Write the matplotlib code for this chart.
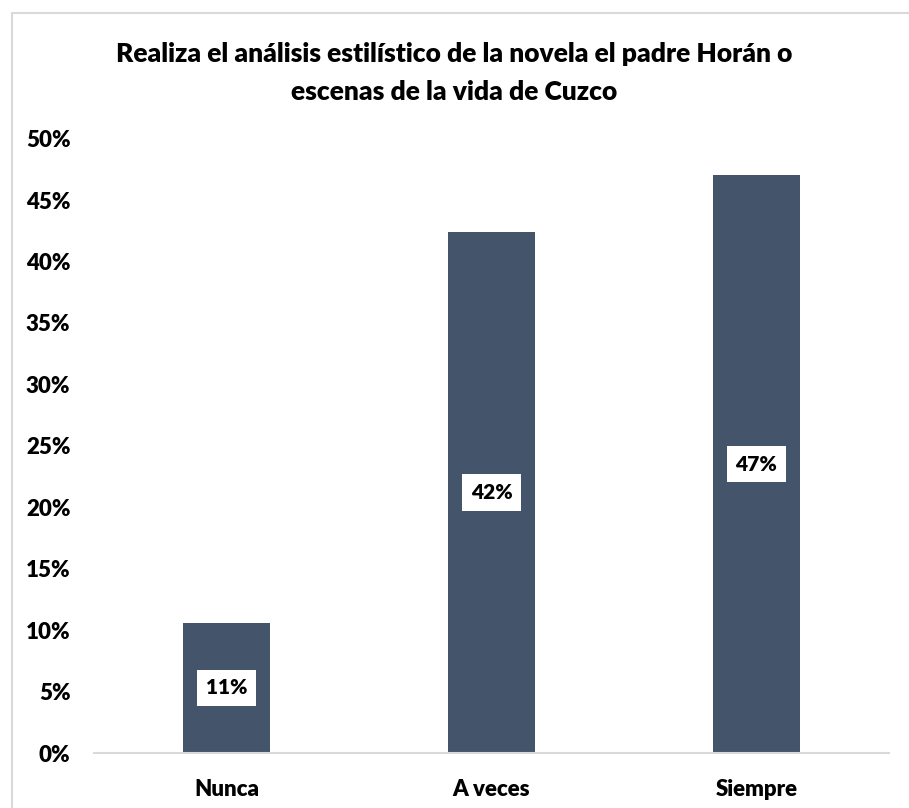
import matplotlib
matplotlib.use("Agg")
import matplotlib.pyplot as plt
from matplotlib.patches import Rectangle
from matplotlib.ticker import PercentFormatter

# data
categories = ["Nunca", "A veces", "Siempre"]
values = [10.6, 42.4, 47.0]
labels = ["11%", "42%", "47%"]
y_ticks = [0, 5, 10, 15, 20, 25, 30, 35, 40, 45, 50]

title = "Realiza el análisis estilístico de la novela el padre Horán o\nescenas de la vida de Cuzco"

plt.rcParams["font.family"] = ["Lato", "DejaVu Sans"]
bar_color = "#44546A"
line_color = "#D9D9D9"
weight = "heavy"

W, H = 909, 808
fig = plt.figure(figsize=(W / 100, H / 100), dpi=100)

# light chart frame (Excel style), cropped on the right/bottom
fig.patches.append(Rectangle((12 / W, -0.1), 1.2, (H - 13) / H + 0.1,
                             transform=fig.transFigure, fill=False,
                             edgecolor=line_color, linewidth=1.5))

ax = fig.add_axes([94 / W, (H - 753) / H, (889 - 94) / W, (753 - 138.6) / H])

x = range(len(categories))
bars = ax.bar(x, values, width=0.325, color=bar_color)

for b, lab in zip(bars, labels):
    ax.text(b.get_x() + b.get_width() / 2, b.get_height() / 2, lab,
            ha="center", va="center", fontsize=15, fontweight=weight,
            color="black",
            bbox=dict(boxstyle="square,pad=0.42", facecolor="white",
                      edgecolor="none"))

ax.set_xlim(-0.5, 2.5)
ax.set_ylim(0, 50)
ax.set_yticks(y_ticks)
ax.yaxis.set_major_formatter(PercentFormatter(decimals=0))
ax.set_xticks(list(x))
ax.set_xticklabels(categories)

for s in ["top", "right", "left"]:
    ax.spines[s].set_visible(False)
ax.spines["bottom"].set_color(line_color)
ax.spines["bottom"].set_linewidth(1.5)
ax.tick_params(axis="both", length=0, labelsize=16)
ax.tick_params(axis="y", pad=17)
ax.tick_params(axis="x", pad=19)
for t in ax.get_xticklabels() + ax.get_yticklabels():
    t.set_fontweight(weight)

fig.text(0.5, (H - 73) / H, title, ha="center", va="center",
         fontsize=19, fontweight=weight, linespacing=1.72)

fig.savefig("out.png", dpi=100)
